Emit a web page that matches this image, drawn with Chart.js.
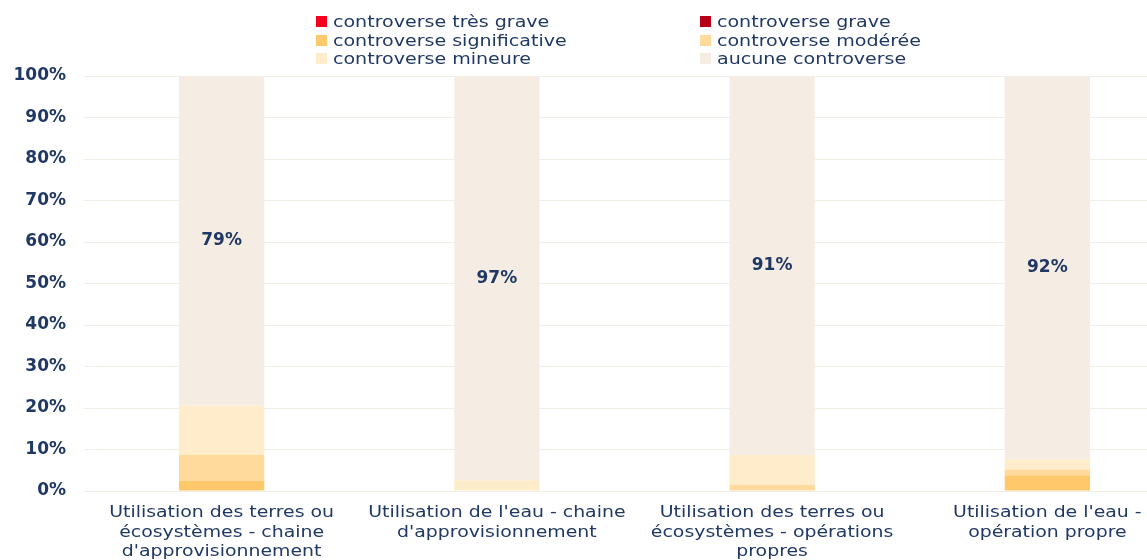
<!DOCTYPE html>
<html>
<head>
<meta charset="utf-8">
<script src="https://cdn.jsdelivr.net/npm/chart.js@4/dist/chart.umd.min.js"></script>
<style>
  html, body { margin: 0; padding: 0; background: #ffffff; overflow: hidden; }
  #wrap { position: relative; width: 1190px; height: 560px; }
  #legend { position: absolute; left: 0; top: 0; width: 1190px; height: 70px; font-family: "DejaVu Sans", sans-serif; font-size: 16px; color: #203864; }
  .li { position: absolute; white-space: nowrap; line-height: 18px; }
  .li span.box { display: inline-block; width: 11px; height: 11px; margin-right: 6px; vertical-align: 0px; }
  .li span.txt { display: inline-block; transform: scaleX(1.19); transform-origin: left center; }
</style>
</head>
<body>
<div id="wrap">
  <canvas id="c" width="1190" height="560"></canvas>
  <div id="legend"></div>
</div>
<script>
const categories = [
  ["Utilisation des terres ou", "écosystèmes - chaine", "d'approvisionnement"],
  ["Utilisation de l'eau - chaine", "d'approvisionnement"],
  ["Utilisation des terres ou", "écosystèmes - opérations", "propres"],
  ["Utilisation de l'eau -", "opération propre"]
];
const seriesNames = [
  "controverse très grave", "controverse grave", "controverse significative",
  "controverse modérée", "controverse mineure", "aucune controverse"
];
const tresGrave     = [0, 0, 0, 0];
const grave         = [0, 0, 0, 0];
const significative = [2.5, 0, 0, 3.8];
const moderee       = [6.2, 0, 1.5, 1.4];
const mineure       = [11.9, 2.6, 7.2, 2.4];
const aucune        = [79.4, 97.4, 91.3, 92.4];
const yTicks = [0, 10, 20, 30, 40, 50, 60, 70, 80, 90, 100];

const colors = ["#F5001E", "#B8001A", "#FFC86A", "#FFDA9C", "#FFECCB", "#F5EDE3"];
const seriesValues = [tresGrave, grave, significative, moderee, mineure, aucune];
const textColor = "#203864";

const datasets = seriesNames.map((name, i) => ({
  label: name,
  data: seriesValues[i],
  backgroundColor: colors[i],
  borderWidth: 0,
  barPercentage: 0.31,
  categoryPercentage: 1.0
}));

const valueLabels = {
  id: 'valueLabels',
  afterDatasetsDraw(chart) {
    const ctx = chart.ctx;
    const idx = chart.data.datasets.length - 1;
    const meta = chart.getDatasetMeta(idx);
    ctx.save();
    ctx.font = 'bold 17px "DejaVu Sans", sans-serif';
    ctx.fillStyle = textColor;
    ctx.textAlign = 'center';
    ctx.textBaseline = 'middle';
    meta.data.forEach((el, j) => {
      const v = chart.data.datasets[idx].data[j];
      ctx.fillText(Math.round(v) + '%', el.x, (el.y + el.base) / 2);
    });
    ctx.restore();
  }
};

// x category labels drawn slightly stretched horizontally, at the scale's tick pixels
const xLabels = {
  id: 'xLabels',
  afterDraw(chart) {
    const ctx = chart.ctx;
    const xs = chart.scales.x;
    ctx.save();
    ctx.font = '16px "DejaVu Sans", sans-serif';
    ctx.fillStyle = textColor;
    ctx.textAlign = 'center';
    ctx.textBaseline = 'middle';
    chart.data.labels.forEach((lab, i) => {
      const x = xs.getPixelForTick(i);
      const lines = Array.isArray(lab) ? lab : [lab];
      lines.forEach((line, k) => {
        ctx.save();
        ctx.translate(x, xs.top + 22 + k * 19.5);
        ctx.scale(1.18, 1);
        ctx.fillText(line, 0, 0);
        ctx.restore();
      });
    });
    ctx.restore();
  }
};

const chart = new Chart(document.getElementById('c'), {
  type: 'bar',
  data: { labels: categories, datasets: datasets },
  options: {
    responsive: false,
    animation: false,
    layout: { padding: { top: 76, right: 5, left: 0, bottom: 0 } },
    plugins: { legend: { display: false }, tooltip: { enabled: false } },
    scales: {
      x: {
        stacked: true,
        grid: { display: false },
        border: { display: false },
        ticks: {
          color: 'rgba(0,0,0,0)',
          font: { family: '"DejaVu Sans", sans-serif', size: 16, lineHeight: 1.2 },
          maxRotation: 0, minRotation: 0, autoSkip: false, padding: 10
        },
        afterFit(scale) { scale.height = 69; }
      },
      y: {
        stacked: true,
        min: 0, max: 100,
        afterBuildTicks(scale) { scale.ticks = yTicks.map(v => ({ value: v })); },
        grid: { color: '#F1EEE6', lineWidth: 1, drawTicks: false },
        border: { display: false },
        ticks: {
          color: textColor,
          font: { family: '"DejaVu Sans", sans-serif', size: 17, weight: 'bold' },
          padding: 18,
          callback: v => v + '%'
        },
        afterFit(scale) { scale.width = 84; }
      }
    }
  },
  plugins: [valueLabels, xLabels]
});

// HTML legend built from datasets: two columns, three rows
const legend = document.getElementById('legend');
const colX = [316, 700];
const rowY = [13, 32, 50];
chart.data.datasets.forEach((ds, i) => {
  const d = document.createElement('div');
  d.className = 'li';
  d.style.left = colX[i % 2] + 'px';
  d.style.top = rowY[Math.floor(i / 2)] + 'px';
  d.innerHTML = '<span class="box" style="background:' + ds.backgroundColor + '"></span><span class="txt">' + ds.label + '</span>';
  legend.appendChild(d);
});
</script>
</body>
</html>
